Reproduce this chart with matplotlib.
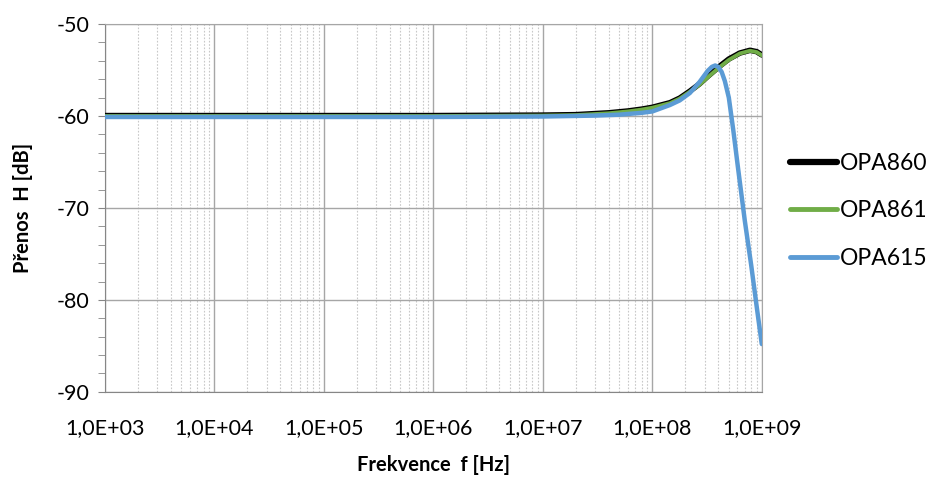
import matplotlib
matplotlib.use("Agg")
import matplotlib.pyplot as plt
from matplotlib.ticker import LogLocator, FixedLocator, NullFormatter, FuncFormatter

plt.rcParams["font.family"] = ["Lato", "DejaVu Sans"]
plt.rcParams["axes.unicode_minus"] = False

# --- data ---
f_860 = [1e3, 1e6, 1e7, 2e7, 4e7, 6e7, 8e7, 1e8, 1.45e8, 1.78e8, 2.2e8, 2.7e8,
         3.2e8, 4.1e8, 5e8, 6.3e8, 7.8e8, 9e8, 1e9]
h_860 = [-59.95, -59.95, -59.9, -59.85, -59.65, -59.45, -59.25, -59.05, -58.55,
         -58.05, -57.3, -56.5, -55.7, -54.6, -53.8, -53.15, -52.85, -53.0, -53.35]

f_861 = f_860
h_861 = [-60.0, -60.0, -59.95, -59.9, -59.7, -59.5, -59.3, -59.1, -58.6,
         -58.1, -57.35, -56.6, -55.8, -54.7, -53.9, -53.2, -52.9, -53.05, -53.4]

f_615 = [1e3, 1e6, 1e7, 3e7, 5e7, 8e7, 1e8, 1.45e8, 1.78e8, 2.2e8, 2.7e8, 3.2e8,
         3.5e8, 3.75e8, 4.0e8, 4.3e8, 4.6e8, 5e8, 5.5e8, 6e8, 7e8, 8e8, 9e8, 1e9]
h_615 = [-60.1, -60.1, -60.05, -59.95, -59.85, -59.65, -59.5, -58.8, -58.3,
         -57.5, -56.3, -55.1, -54.65, -54.5, -54.65, -55.2, -56.2, -58.0, -61.6,
         -65.2, -71.4, -76.2, -80.8, -84.8]

GRID = "#a6a6a6"
MINOR = "#c8c8c8"

fig = plt.figure(figsize=(9.29, 4.82), dpi=100)
ax = fig.add_axes([0.113, 0.187, 0.707, 0.763])

ax.plot(f_860, h_860, color="#000000", lw=4.0, label="OPA860", zorder=3,
        solid_capstyle="round")
ax.plot(f_861, h_861, color="#70ad47", lw=2.8, label="OPA861", zorder=4,
        solid_capstyle="round")
ax.plot(f_615, h_615, color="#5b9bd5", lw=3.2, label="OPA615", zorder=5,
        solid_capstyle="round")

ax.set_xscale("log")
ax.set_xlim(1e3, 1e9)
ax.set_ylim(-90, -50)

ax.xaxis.set_major_locator(FixedLocator([1e3, 1e4, 1e5, 1e6, 1e7, 1e8, 1e9]))
ax.xaxis.set_minor_locator(LogLocator(base=10, subs=range(2, 10), numticks=100))
ax.xaxis.set_minor_formatter(NullFormatter())
ax.xaxis.set_major_formatter(FuncFormatter(
    lambda v, p: ("%.1E" % v).replace(".", ",")))
ax.yaxis.set_major_locator(FixedLocator([-90, -80, -70, -60, -50]))
ax.yaxis.set_minor_locator(FixedLocator(range(-90, -49, 2)))
ax.yaxis.set_minor_formatter(NullFormatter())

ax.grid(True, which="major", color=GRID, lw=1.0, zorder=1)
ax.grid(True, which="minor", axis="x", color=MINOR, lw=0.8, ls=(0, (1.5, 1.5)),
        zorder=1)
ax.set_axisbelow(True)

for s in ax.spines.values():
    s.set_color(GRID)
ax.spines["left"].set_color("#868686")
ax.spines["bottom"].set_color("#868686")

ax.tick_params(axis="y", which="major", labelsize=15.5, color="#868686",
               length=5, direction="out", pad=6)
ax.tick_params(axis="x", which="major", labelsize=15.5, length=0, pad=19)
ax.tick_params(axis="y", which="minor", color="#868686", length=5, direction="out")
ax.tick_params(axis="x", which="minor", length=0)

ax.set_xlabel("Frekvence  f [Hz]", fontsize=14.5, fontweight="bold", labelpad=12)
ax.set_ylabel("Přenos  H [dB]", fontsize=14.5, fontweight="bold", labelpad=17)

leg = ax.legend(loc="center left", bbox_to_anchor=(1.025, 0.492), frameon=False,
                fontsize=16.5, handlelength=2.05, handletextpad=0.12,
                labelspacing=1.15, borderaxespad=0.3, borderpad=0.2)
leg.get_lines()[0].set_linewidth(4.5)
leg.get_lines()[1].set_linewidth(3.5)
leg.get_lines()[2].set_linewidth(3.5)

fig.savefig("out.png", dpi=100)
